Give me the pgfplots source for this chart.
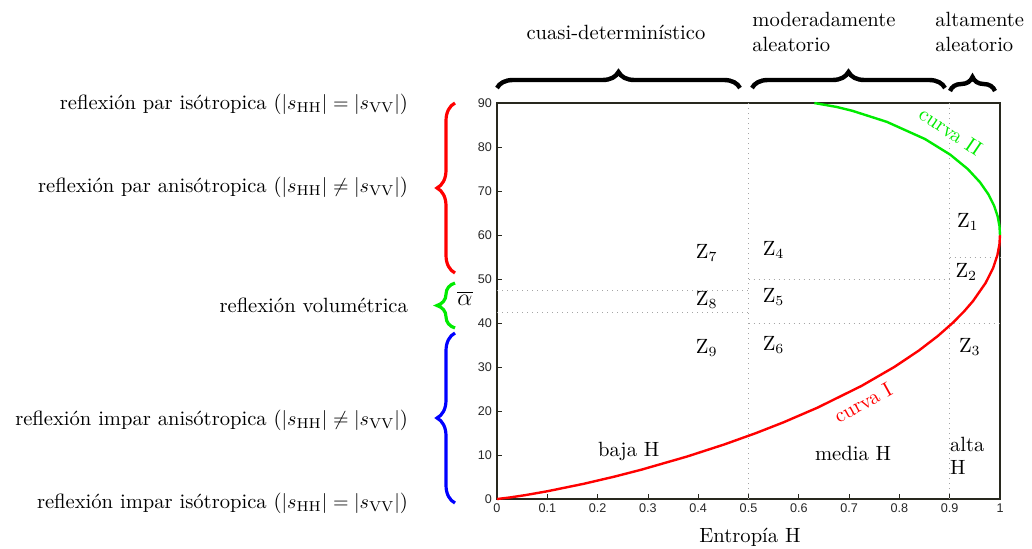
\documentclass[border=0pt]{standalone}
\usepackage{fontspec}
\newfontfamily\tickfont{Liberation Sans}
\usepackage{pgfplots}
\pgfplotsset{compat=1.18}
\usetikzlibrary{decorations.pathreplacing}
\definecolor{framec}{RGB}{40,40,30}
\definecolor{gridc}{RGB}{165,165,165}
\definecolor{cgreen}{RGB}{0,235,0}
\definecolor{cred}{RGB}{255,0,0}
\definecolor{cblue}{RGB}{0,0,255}
\begin{document}
\begin{tikzpicture}[font=\fontsize{10.3}{12.5}\selectfont]
\path[use as bounding box] (-248.5pt,-24.5pt) rectangle (267.5pt,249.5pt);
\begin{axis}[
  at={(0pt,0pt)}, anchor=south west,
  scale only axis, width=251.5pt, height=198pt,
  xmin=0, xmax=1, ymin=0, ymax=90,
  clip=false,
  axis line style={framec, line width=1.4pt},
  tick align=inside, tick pos=left,
  major tick length=2.5pt,
  tick style={framec, line width=0.4pt},
  xtick={0,0.1,0.2,0.3,0.4,0.5,0.6,0.7,0.8,0.9,1},
  xticklabels={0,0.1,0.2,0.3,0.4,0.5,0.6,0.7,0.8,0.9,1},
  ytick={0,10,20,30,40,50,60,70,80,90},
  yticklabels={0,10,20,30,40,50,60,70,80,90},
  ticklabel style={font=\tickfont\fontsize{6.3}{7}\selectfont, text=black!85},
  xticklabel style={yshift=1pt},
  yticklabel style={xshift=1pt},
]
% dotted zone boundaries
\draw[gridc, dotted, line width=0.5pt] (axis cs:0.5,0) -- (axis cs:0.5,90);
\draw[gridc, dotted, line width=0.5pt] (axis cs:0.9,0) -- (axis cs:0.9,90);
\draw[gridc, dotted, line width=0.5pt] (axis cs:0,47.5) -- (axis cs:0.5,47.5);
\draw[gridc, dotted, line width=0.5pt] (axis cs:0,42.5) -- (axis cs:0.5,42.5);
\draw[gridc, dotted, line width=0.5pt] (axis cs:0.5,50) -- (axis cs:0.9,50);
\draw[gridc, dotted, line width=0.5pt] (axis cs:0.5,40) -- (axis cs:1,40);
\draw[gridc, dotted, line width=0.5pt] (axis cs:0.9,55) -- (axis cs:1,55);
% curve I
\addplot[cred, line width=1.2pt] coordinates {
(0,0) (0.02617,0.3586) (0.05681,0.8911) (0.10022,1.7647) (0.17266,3.4615)
(0.23371,5.0943) (0.28709,6.6667) (0.37754,9.6429) (0.45220,12.414)
(0.51527,15) (0.56934,17.419) (0.63732,20.769) (0.72483,25.714)
(0.78969,30) (0.83878,33.75) (0.87648,37.059) (0.90571,40)
(0.92853,42.632) (0.94640,45) (0.97131,49.091) (0.98627,52.5)
(0.99474,55.385) (0.99885,57.857) (1,60)};
% curve II
\addplot[cgreen, line width=1.2pt] coordinates {
(0.63093,90) (0.67525,89.109) (0.70641,88.235) (0.77515,85.714)
(0.85087,81.818) (0.90109,78.261) (0.93589,75) (0.96023,72)
(0.97705,69.231) (0.98827,66.667) (0.99523,64.286) (0.99891,62.069) (1,60)};
% zone labels
\node at (axis cs:0.417,56) {Z$_7$};
\node at (axis cs:0.417,45.3) {Z$_8$};
\node at (axis cs:0.417,34.4) {Z$_9$};
\node at (axis cs:0.55,56.7) {Z$_4$};
\node at (axis cs:0.55,46) {Z$_5$};
\node at (axis cs:0.55,34.9) {Z$_6$};
\node at (axis cs:0.936,63) {Z$_1$};
\node at (axis cs:0.933,51.5) {Z$_2$};
\node at (axis cs:0.94,34.6) {Z$_3$};
\node at (axis cs:0.262,10.9) {baja H};
\node at (axis cs:0.708,10.25) {media H};
\node[anchor=west, align=left, inner sep=0pt, font=\fontsize{10.3}{11.5}\selectfont] at (axis cs:0.9,9.7) {alta\\H};
\node[text=cred, rotate=29, inner sep=0pt] at (axis cs:0.7276,21.9) {curva I};
\node[text=cgreen, rotate=-34, inner sep=0pt] at (axis cs:0.902,83.6) {curva II};
\end{axis}
% axis labels
\node at (-16pt,100.5pt) {\fontsize{12}{14}\selectfont$\overline{\alpha}$};
\node at (126.5pt,-19pt) {Entropía H};
% top braces and labels
\draw[black, line width=2.2pt, decorate, decoration={brace, amplitude=8pt}] (0pt,205.5pt) -- (121.5pt,205.5pt);
\draw[black, line width=2.2pt, decorate, decoration={brace, amplitude=8pt}] (127.5pt,205.5pt) -- (224pt,205.5pt);
\draw[black, line width=2.2pt, decorate, decoration={brace, amplitude=7pt}] (226.5pt,204pt) -- (249pt,204pt);
\node at (59.5pt,233.5pt) {cuasi-determinístico};
\node[anchor=west, align=left, inner sep=0pt, font=\fontsize{10.3}{12.5}\selectfont] at (127.5pt,233.3pt) {moderadamente\\aleatorio};
\node[anchor=west, align=left, inner sep=0pt, font=\fontsize{10.3}{12.5}\selectfont] at (219pt,233.3pt) {altamente\\aleatorio};
% left braces
\draw[cred, line width=1.6pt, decorate, decoration={brace, amplitude=9pt}] (-21pt,113pt) -- (-21pt,198pt);
\draw[cgreen, line width=1.6pt, decorate, decoration={brace, amplitude=9pt}] (-21pt,85.5pt) -- (-21pt,108pt);
\draw[cblue, line width=1.6pt, decorate, decoration={brace, amplitude=9pt}] (-21pt,-2pt) -- (-21pt,83pt);
% left labels
\node[anchor=east] at (-41pt,197.5pt) {reflexión par isótropica ($|s_{\mathrm{HH}}|=|s_{\mathrm{VV}}|$)};
\node[anchor=east] at (-41pt,156pt) {reflexión par anisótropica ($|s_{\mathrm{HH}}|\neq|s_{\mathrm{VV}}|$)};
\node[anchor=east] at (-41pt,97pt) {reflexión volumétrica};
\node[anchor=east] at (-41pt,39.5pt) {reflexión impar anisótropica ($|s_{\mathrm{HH}}|\neq|s_{\mathrm{VV}}|$)};
\node[anchor=east] at (-41pt,-2pt) {reflexión impar isótropica ($|s_{\mathrm{HH}}|=|s_{\mathrm{VV}}|$)};
\end{tikzpicture}
\end{document}
